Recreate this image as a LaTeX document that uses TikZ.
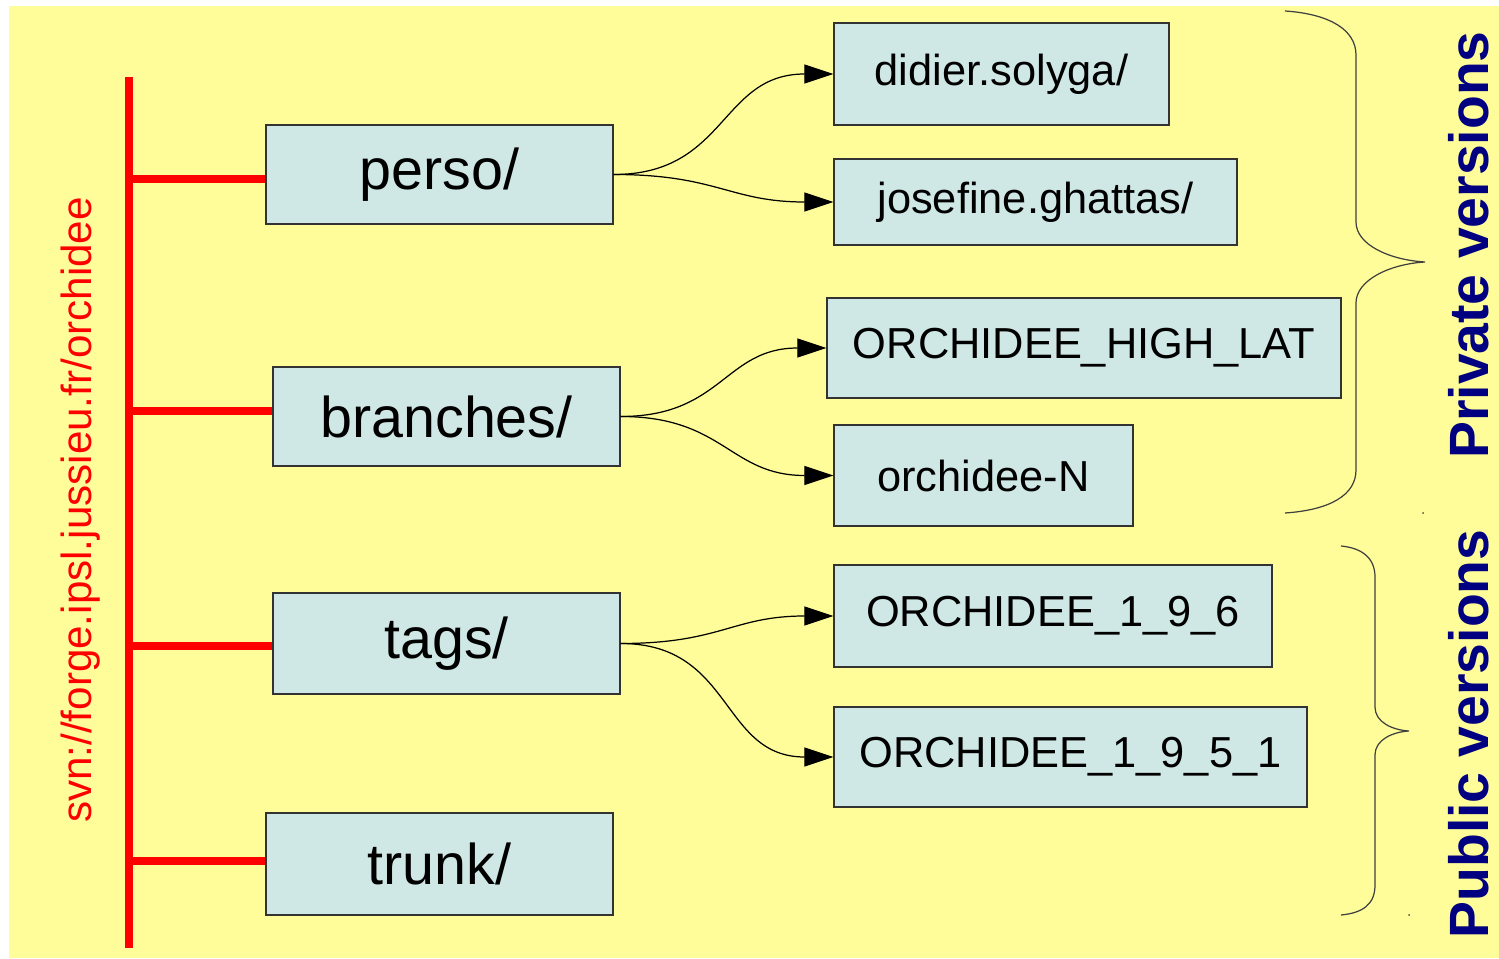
\documentclass[tikz,border=0pt]{standalone}
\usepackage{fontspec}
\setmainfont{Liberation Sans}
\usetikzlibrary{arrows.meta,positioning}

\definecolor{slideyellow}{RGB}{255,253,153}
\definecolor{dirfill}{RGB}{207,231,229}
\definecolor{navyblue}{RGB}{0,0,128}

\begin{document}
\begin{tikzpicture}[x=0.02cm,y=-0.02cm]
	\tikzstyle{Dir}		= [draw=black!80, line width=0.8pt, fill=dirfill, inner sep=0pt, minimum height=2cm, font=\fontsize{32.7}{36}\selectfont]
	\tikzstyle{SubDir}	= [Dir, font=\fontsize{24.7}{28}\selectfont]
	\tikzstyle{Root}	= [red, line width=4.5pt]
	\tikzstyle{Link}	= [-{Triangle[length=0.58cm,width=0.38cm]}, line width=0.7pt, black, looseness=1.2]
	\tikzstyle{Brace}	= [line width=0.7pt, black!75]
	\tikzstyle{Versions}	= [navyblue, font=\fontsize{31.5}{36}\selectfont\bfseries, rotate=90, inner sep=0pt]

	\useasboundingbox (0,0) rectangle (1499,959);
	\fill [white] (0,0) rectangle (1499,959);
	\fill [slideyellow] (9,6) rectangle (1499,958);

	% repository directories
	\node (perso) at (439.5, 174.5) [Dir, minimum width=6.94cm, minimum height=1.98cm] {perso/};
	\node (branches) at (446.5, 416.5) [Dir, minimum width=6.94cm, minimum height=1.98cm] {branches/};
	\node (tags) at (446.5, 643.5) [Dir, minimum width=6.94cm, minimum height=2.02cm] {tags/};
	\node (trunk) at (439.5, 864) [Dir, minimum width=6.94cm, minimum height=2.04cm] {trunk/};

	\node (didier) at (1001.5, 74) [SubDir, minimum width=6.70cm, minimum height=2.04cm] {didier.solyga/};
	\node (josefine) at (1035.5, 202) [SubDir, minimum width=8.06cm, minimum height=1.72cm] {josefine.ghattas/};
	\node (highlat) at (1084, 348) [SubDir, minimum width=10.28cm] {ORCHIDEE\_HIGH\_LAT};
	\node (orchN) at (983.5, 475.5) [SubDir, minimum width=5.98cm, minimum height=2.02cm] {orchidee-N};
	\node (v196) at (1053, 616) [SubDir, minimum width=8.76cm, minimum height=2.04cm] {ORCHIDEE\_1\_9\_6};
	\node (v1951) at (1070.5, 757) [SubDir, minimum width=9.46cm] {ORCHIDEE\_1\_9\_5\_1};

	% svn root
	\node (url) at (81, 510) [rotate=90, red, font=\fontsize{24}{28}\selectfont] {svn://forge.ipsl.jussieu.fr/orchidee};
	\coordinate (rtop) at (129, 77);
	\coordinate (rbot) at (129, 948);
	\coordinate (rperso) at (129, 179);
	\coordinate (rbranches) at (129, 411);
	\coordinate (rtags) at (129, 646);
	\coordinate (rtrunk) at (129, 861);
	\draw [Root] (rtop) -- (rbot);
	\draw [Root] (rperso) -- (rperso -| perso.west);
	\draw [Root] (rbranches) -- (rbranches -| branches.west);
	\draw [Root] (rtags) -- (rtags -| tags.west);
	\draw [Root] (rtrunk) -- (rtrunk -| trunk.west);

	\draw [Link] (perso.east) to [out=0, in=180] (didier.west);
	\draw [Link] (perso.east) to [out=0, in=180] (josefine.west);
	\draw [Link] (branches.east) to [out=0, in=180] (highlat.west);
	\draw [Link] (branches.east) to [out=0, in=180] (orchN.west);
	\draw [Link] (tags.east) to [out=0, in=180] (v196.west);
	\draw [Link] (tags.east) to [out=0, in=180] (v1951.west);

	% braces
	\draw [Brace] (1285,11) .. controls (1330,14) and (1356,30) .. (1356,55) -- (1356,222)
		.. controls (1356,245) and (1390,260) .. (1425,262)
		.. controls (1390,264) and (1356,280) .. (1356,303) -- (1356,470)
		.. controls (1356,495) and (1330,510) .. (1285,513);
	\draw [Brace] (1341,546) .. controls (1362,548) and (1375,558) .. (1375,577) -- (1375,707)
		.. controls (1375,722) and (1392,730) .. (1409,731)
		.. controls (1392,732) and (1375,740) .. (1375,755) -- (1375,885)
		.. controls (1375,905) and (1362,913) .. (1341,915);
	\fill [black!70] (1423,513) circle [radius=1];
	\fill [black!70] (1409,915) circle [radius=1];

	\node (private) at (1469, 245) [Versions] {Private versions};
	\node (public) at (1469, 734) [Versions] {Public versions};
\end{tikzpicture}
\end{document}
